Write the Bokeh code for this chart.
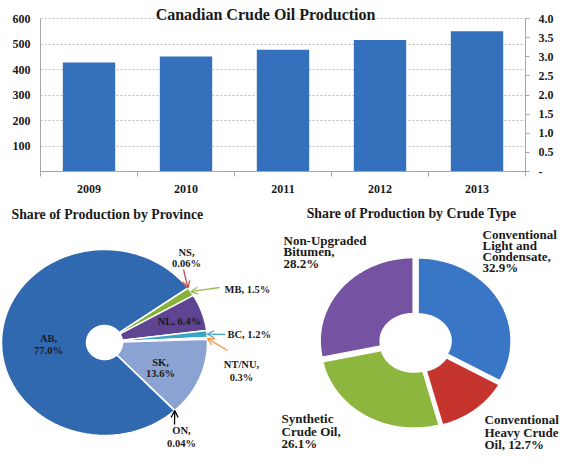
import numpy as np
from bokeh.plotting import figure
from bokeh.layouts import column, row
from bokeh.models import (Range1d, LinearAxis, FixedTicker, CustomJSTickFormatter,
                          Label, Arrow, OpenHead)
from bokeh.core.properties import value
from bokeh.embed import file_html
from bokeh.resources import INLINE

# ---------------- data ----------------
years = [2009, 2010, 2011, 2012, 2013]
production = [427, 451, 477, 516, 550]          # left axis units
left_ticks = [100, 200, 300, 400, 500, 600]
right_ticks = [0, 0.5, 1.0, 1.5, 2.0, 2.5, 3.0, 3.5, 4.0]

provinces = ["NS", "MB", "NL", "BC", "NT/NU", "SK", "ON", "AB"]
province_share = [0.06, 1.5, 6.4, 1.2, 0.3, 13.6, 0.04, 77.0]

crude_types = ["Conventional Light and Condensate", "Conventional Heavy Crude Oil",
               "Synthetic Crude Oil", "Non-Upgraded Bitumen"]
crude_share = [32.9, 12.7, 26.1, 28.2]

# ---------------- styling / layout ----------------
FONT = "Liberation Serif"
TXT = "#1a1a1a"
GRAY = "#a6a6a6"
BAR_COLOR = "#3570bd"
province_colors = ["#c0504d", "#86b23a", "#5f4494", "#38a5c4", "#f0923a",
                   "#8aa3d3", "#404040", "#3069b0"]
arrow_colors = {"NS": "#c0504d", "MB": "#9bbb59", "BC": "#4bacc6",
                "NT/NU": "#f79646", "ON": "#000000"}
crude_colors = ["#3a76c6", "#c5352d", "#8cb63e", "#7652a3"]

# frame: 600 line 18px from top, zero line at 171px -> extend range above 600
Y_TOP = 600 * 171 / 153.0
R_TOP = 4 * 171 / 153.0

# ---------------- top: bar chart ----------------
top = figure(width=559, height=197, x_range=Range1d(2008.5, 2013.5),
             y_range=Range1d(0, Y_TOP), output_backend="svg", toolbar_location=None,
             min_border_left=40, min_border_right=34, min_border_top=0,
             min_border_bottom=26)
top.outline_line_color = None
top.background_fill_color = "white"
top.border_fill_color = "white"
top.xgrid.grid_line_color = None
top.ygrid.grid_line_color = "#bdbdbd"
top.ygrid.grid_line_dash = "2 2"
top.ygrid.grid_line_width = 1

top.vbar(x=years, top=production, width=0.54, fill_color=BAR_COLOR, line_color=None)

yax = top.yaxis[0]
yax.ticker = FixedTicker(ticks=left_ticks)
yax.bounds = (0, 600)
xax = top.xaxis[0]
xax.ticker = FixedTicker(ticks=years,
                         minor_ticks=[y - 0.5 for y in years] + [years[-1] + 0.5])
xax.formatter = CustomJSTickFormatter(code="return tick.toFixed(0);")

top.extra_y_ranges = {"r": Range1d(0, R_TOP)}
rax = LinearAxis(y_range_name="r", ticker=FixedTicker(ticks=right_ticks),
                 formatter=CustomJSTickFormatter(
                     code="return tick == 0 ? '-' : tick.toFixed(1);"))
rax.bounds = (0, 4)
top.add_layout(rax, "right")

for ax in (yax, xax, rax):
    ax.axis_line_color = GRAY
    ax.major_tick_line_color = GRAY
    ax.minor_tick_line_color = GRAY
    ax.major_label_text_font = FONT
    ax.major_label_text_font_style = "bold"
    ax.major_label_text_font_size = "12px"
    ax.major_label_text_color = TXT
    ax.major_tick_in = 0
    ax.minor_tick_in = 0
    ax.minor_tick_out = 0
yax.major_tick_out = 0
yax.major_label_standoff = 10
rax.major_tick_out = 4
rax.major_label_standoff = 9
xax.major_tick_out = 0
xax.minor_tick_out = 5
xax.major_label_standoff = 8

top.add_layout(Label(x=2010.82, y=616, text="Canadian Crude Oil Production",
                     text_align="center", text_baseline="middle", text_font=FONT,
                     text_font_style="bold", text_font_size="16px", text_color=TXT))


def sector(cx, cy, rx, ry, irx, iry, a0, a1, ex=0.0, ey=0.0, n=90):
    t = np.radians(np.linspace(a0, a1, n))
    ox = cx + ex + rx * np.cos(t)
    oy = cy + ey - ry * np.sin(t)
    ix = cx + ex + irx * np.cos(t[::-1])
    iy = cy + ey - iry * np.sin(t[::-1])
    return list(np.concatenate([ox, ix])), list(np.concatenate([oy, iy]))


def angles(shares, start):
    tot = float(sum(shares))
    out, a = [], start
    for s in shares:
        b = a - 360.0 * s / tot
        out.append((a, b))
        a = b
    return out


def pie_fig(x0, x1):
    f = figure(width=int(x1 - x0), height=255, x_range=Range1d(x0, x1),
               y_range=Range1d(455, 200), output_backend="svg", toolbar_location=None,
               min_border=0, x_axis_type=None, y_axis_type=None)
    f.outline_line_color = None
    f.xgrid.grid_line_color = None
    f.ygrid.grid_line_color = None
    f.background_fill_color = "white"
    f.border_fill_color = "white"
    return f


def put_text(f, xs, ys, texts, size, align):
    f.text(x=xs, y=ys, text=texts, text_font=value(FONT), text_font_style="bold",
           text_font_size=size, text_align=align, text_baseline="middle",
           text_color=TXT)


# ---------------- bottom left: province pie ----------------
left = pie_fig(3, 281)
CX, CY, RX, RY, IRX, IRY = 107, 345, 103, 93, 18, 17
pang = angles(province_share, 36)
pxs, pys = [], []
for (a0, a1) in pang:
    xs_, ys_ = sector(CX, CY, RX, RY, IRX, IRY, a0, a1)
    pxs.append(xs_)
    pys.append(ys_)
left.patches(xs=pxs, ys=pys, fill_color=province_colors, line_color="white",
             line_width=1.5)

put_text(left, [14], [217], ["Share of Production by Province"], "13.8px", "left")

# label lines (layout positions)
prov_label_pos = {
    "AB": ("center", 51, [341, 353], True),
    "NS": ("center", 189, [255, 266], True),
    "MB": ("left", 227, [292], False),
    "NL": ("center", 182, [324], False),
    "BC": ("left", 230, [337], False),
    "NT/NU": ("center", 244, [367, 380], True),
    "SK": ("center", 163, [365, 376], True),
    "ON": ("center", 184, [433, 446], True),
}
arrow_tail = {"NS": (186, 272), "MB": (222, 290), "BC": (228, 337),
              "NT/NU": (230, 353), "ON": (177, 427)}

for name, share, (a0, a1) in zip(provinces, province_share, pang):
    align, lx, lys, split = prov_label_pos[name]
    lines = [f"{name},", f"{share}%"] if split else [f"{name}, {share}%"]
    put_text(left, [lx] * len(lines), lys, lines, "10.5px", align)
    if name in arrow_tail:
        m = np.radians((a0 + a1) / 2.0)
        tx, ty = CX + RX * np.cos(m), CY - RY * np.sin(m)
        c = arrow_colors[name]
        sx, sy = arrow_tail[name]
        left.add_layout(Arrow(end=OpenHead(size=7, line_color=c, line_width=1.3),
                              x_start=sx, y_start=sy, x_end=float(tx), y_end=float(ty),
                              line_color=c, line_width=1.3))

# ---------------- bottom right: crude type donut ----------------
right = pie_fig(283, 564)
DX, DY, DRX, DRY, DIRX, DIRY, EXP = 420, 345, 93, 83, 33, 27, 3.0
cang = angles(crude_share, 90)
cxs, cys = [], []
for (a0, a1) in cang:
    m = np.radians((a0 + a1) / 2.0)
    xs_, ys_ = sector(DX, DY, DRX, DRY, DIRX, DIRY, a0, a1,
                      EXP * np.cos(m), -EXP * np.sin(m))
    cxs.append(xs_)
    cys.append(ys_)
right.patches(xs=cxs, ys=cys, fill_color=crude_colors, line_color="white",
              line_width=1.5)

put_text(right, [416], [216], ["Share of Production by Crude Type"], "13.8px", "center")

crude_label_lines = [
    ["Conventional", "Light and", "Condensate,", "{p}%"],
    ["Conventional", "Heavy Crude", "Oil, {p}%"],
    ["Synthetic", "Crude Oil,", "{p}%"],
    ["Non-Upgraded", "Bitumen,", "{p}%"],
]
crude_label_pos = [(487, [236.5, 247.5, 258.5, 269.5]), (489, [422, 434.5, 446.5]),
                   (286, [421, 433.5, 446]), (288, [242.5, 254, 265.5])]
for share, tmpl, (lx, lys) in zip(crude_share, crude_label_lines, crude_label_pos):
    lines = [s.format(p=share) for s in tmpl]
    put_text(right, [lx] * len(lines), lys, lines, "13px", "left")

layout = column(top, row(left, right, spacing=0), spacing=0)
open("out.html", "w").write(file_html(layout, INLINE))
